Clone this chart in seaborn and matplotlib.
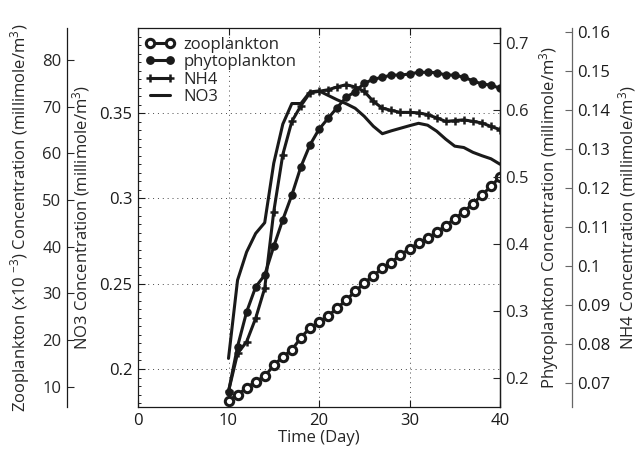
import matplotlib
matplotlib.use("Agg")
import matplotlib.pyplot as plt
from matplotlib.ticker import MultipleLocator
from matplotlib.lines import Line2D
import numpy as np
import pandas as pd
import seaborn as sns

# ---------------- data ----------------
days = list(range(10, 41))

zooplankton = [7.0, 8.3, 9.7, 11.1, 12.2, 14.6, 16.4, 17.9, 20.5, 22.6,
               23.8, 25.2, 26.8, 28.6, 30.4, 32.2, 33.8, 35.4, 36.6, 38.3,
               39.5, 40.8, 41.8, 43.1, 44.5, 46.0, 47.5, 49.2, 51.1, 52.9, 55.0]

phytoplankton = [0.1796, 0.2470, 0.2985, 0.3358, 0.3537, 0.3963, 0.4363, 0.4731,
                 0.5154, 0.5478, 0.5712, 0.5876, 0.6034, 0.6190, 0.6273, 0.6399,
                 0.6458, 0.6488, 0.6522, 0.6522, 0.6537, 0.6563, 0.6563, 0.6557,
                 0.6522, 0.6522, 0.6488, 0.6437, 0.6388, 0.6373, 0.6324]

nh4 = [0.0679, 0.0776, 0.0806, 0.0866, 0.0943, 0.1139, 0.1285, 0.1370,
       0.1410, 0.1443, 0.1447, 0.1451, 0.1458, 0.1464, 0.1458, 0.1447,
       0.1421, 0.1404, 0.1398, 0.1393, 0.1393, 0.1392, 0.1387, 0.1379,
       0.1370, 0.1372, 0.1374, 0.1370, 0.1366, 0.1357, 0.1349]

no3 = [0.2062, 0.2521, 0.2686, 0.2795, 0.2858, 0.3207, 0.3436, 0.3557,
       0.3557, 0.3625, 0.3631, 0.3605, 0.3579, 0.3556, 0.3529, 0.3482,
       0.3424, 0.3380, 0.3397, 0.3412, 0.3427, 0.3441, 0.3430, 0.3395,
       0.3348, 0.3307, 0.3299, 0.3271, 0.3251, 0.3233, 0.3201]

series_names = ["zooplankton", "phytoplankton", "NH4", "NO3"]
x_ticks = [0, 10, 20, 30, 40]
no3_ticks = [0.2, 0.25, 0.3, 0.35]
phyto_ticks = [0.2, 0.3, 0.4, 0.5, 0.6, 0.7]
nh4_ticks = [0.07, 0.08, 0.09, 0.1, 0.11, 0.12, 0.13, 0.14, 0.15, 0.16]
zoo_ticks = [10, 20, 30, 40, 50, 60, 70, 80]

df = pd.DataFrame({"day": days, "zoo": zooplankton, "phyto": phytoplankton,
                   "nh4": nh4, "no3": no3})

# ---------------- style ----------------
sns.set_theme(style="white")
plt.rcParams["font.family"] = ["Open Sans", "DejaVu Sans"]
plt.rcParams["mathtext.fontset"] = "custom"
plt.rcParams["mathtext.rm"] = "Open Sans"
plt.rcParams["mathtext.it"] = "Open Sans"
plt.rcParams["mathtext.bf"] = "Open Sans"
plt.rcParams["mathtext.default"] = "rm"
plt.rcParams["axes.unicode_minus"] = True

FS = 12
fig = plt.figure(figsize=(6.43, 4.55), dpi=100)
ax = fig.add_axes([138 / 643, 48 / 455, 362 / 643, 379 / 455])

ax_zoo = ax.twinx()
ax_phy = ax.twinx()
ax_nh4 = ax.twinx()

lw = 2.2
zoo_style = dict(marker="o", ms=6, mfc="white", mec="k", mew=2.2)
phy_style = dict(marker="o", ms=5.3, mfc="k", mec="k")
nh4_style = dict(marker="+", ms=6, mew=1.8, mec="k")

# NO3 on main axis
sns.lineplot(data=df, x="day", y="no3", ax=ax, color="k", lw=lw)
# zooplankton
sns.lineplot(data=df, x="day", y="zoo", ax=ax_zoo, color="k", lw=lw, **zoo_style)
# phytoplankton
sns.lineplot(data=df, x="day", y="phyto", ax=ax_phy, color="k", lw=lw, **phy_style)
# NH4
sns.lineplot(data=df, x="day", y="nh4", ax=ax_nh4, color="k", lw=lw, **nh4_style)

# ---------------- main axis (NO3) ----------------
ax.set_xlim(0, 40)
ax.set_ylim(0.1777, 0.400)
ax.set_xticks(x_ticks)
ax.set_xticklabels([str(t) for t in x_ticks])
ax.set_yticks(no3_ticks)
ax.set_yticklabels([f"{t:g}" for t in no3_ticks])
ax.yaxis.set_minor_locator(MultipleLocator(0.005))
ax.tick_params(axis="both", which="major", direction="in", length=5, width=0.8,
               labelsize=FS, colors="k", pad=4)
ax.tick_params(axis="x", top=True, bottom=True)
ax.tick_params(axis="y", which="minor", left=True, direction="in", length=2.5, width=0.7)
ax.tick_params(axis="y", left=True, right=False)
ax.grid(True, which="major", linestyle=(0, (1, 4)), color="k", lw=0.7, alpha=0.8)
for s in ax.spines.values():
    s.set_color("k")
    s.set_linewidth(0.9)
ax.set_xlabel("Time (Day)", fontsize=FS, labelpad=1)
ax.set_ylabel("NO3 Concentration (millimole/m$^3$)", fontsize=FS)
ax.yaxis.set_label_coords((92 - 138) / 362, 0.5)

# ---------------- zooplankton axis (far left) ----------------
ax_zoo.set_ylim(5.65, 86.86)
ax_zoo.yaxis.set_ticks_position("left")
ax_zoo.yaxis.set_label_position("left")
for k in ["top", "bottom", "right"]:
    ax_zoo.spines[k].set_visible(False)
ax_zoo.spines["left"].set_position(("axes", (67 - 138) / 362))
ax_zoo.spines["left"].set_color("k")
ax_zoo.spines["left"].set_linewidth(0.9)
ax_zoo.set_yticks(zoo_ticks)
ax_zoo.set_yticklabels([str(t) for t in zoo_ticks])
ax_zoo.tick_params(axis="y", direction="in", length=5, width=0.8, labelsize=FS,
                   left=True, right=False, labelleft=True, labelright=False, pad=4)
ax_zoo.set_ylabel("Zooplankton (x10 $^{-3}$) Concentration (millimole/m$^3$)", fontsize=FS)
ax_zoo.yaxis.set_label_coords((32 - 138) / 362, 0.5)
ax_zoo.grid(False)

# ---------------- phytoplankton axis (right) ----------------
ax_phy.set_ylim(0.1567, 0.7224)
for k in ["top", "bottom", "left"]:
    ax_phy.spines[k].set_visible(False)
ax_phy.spines["right"].set_color("k")
ax_phy.spines["right"].set_linewidth(0.9)
ax_phy.set_yticks(phyto_ticks)
ax_phy.set_yticklabels([f"{t:g}" for t in phyto_ticks])
ax_phy.tick_params(axis="y", direction="in", length=5, width=0.8, labelsize=FS, pad=4)
ax_phy.set_ylabel("Phytoplankton Concentration (millimole/m$^3$)", fontsize=FS,
                  rotation=90)
ax_phy.yaxis.set_label_coords((537 - 138) / 362, 0.5)
ax_phy.yaxis.label.set_va("top")
ax_phy.grid(False)

# ---------------- NH4 axis (far right) ----------------
ax_nh4.set_ylim(0.0639, 0.1609)
for k in ["top", "bottom", "left"]:
    ax_nh4.spines[k].set_visible(False)
ax_nh4.spines["right"].set_position(("axes", (572 - 138) / 362))
ax_nh4.spines["right"].set_color("#666666")
ax_nh4.spines["right"].set_linewidth(0.9)
ax_nh4.set_yticks(nh4_ticks)
ax_nh4.set_yticklabels([f"{t:g}" for t in nh4_ticks])
ax_nh4.tick_params(axis="y", direction="in", length=5, width=0.8, labelsize=FS,
                   color="#666666", labelcolor="k", pad=4)
ax_nh4.set_ylabel("NH4 Concentration (millimole/m$^3$)", fontsize=FS, rotation=90)
ax_nh4.yaxis.set_label_coords((616 - 138) / 362, 0.5)
ax_nh4.yaxis.label.set_va("top")
ax_nh4.grid(False)

for a in [ax_zoo, ax_phy, ax_nh4]:
    a.set_xlim(0, 40)

# ---------------- legend ----------------
handles = [
    Line2D([], [], color="k", lw=lw, **zoo_style),
    Line2D([], [], color="k", lw=lw, **phy_style),
    Line2D([], [], color="k", lw=lw, **nh4_style),
    Line2D([], [], color="k", lw=lw),
]
leg = ax_nh4.legend(handles, series_names, loc="upper left",
                    bbox_to_anchor=(7 / 362, (407 - 37) / 379),
                    frameon=False, fontsize=FS, numpoints=2, handlelength=1.8,
                    handletextpad=0.5, labelspacing=0.08, borderpad=0,
                    borderaxespad=0)

fig.savefig("out.png", dpi=100)
